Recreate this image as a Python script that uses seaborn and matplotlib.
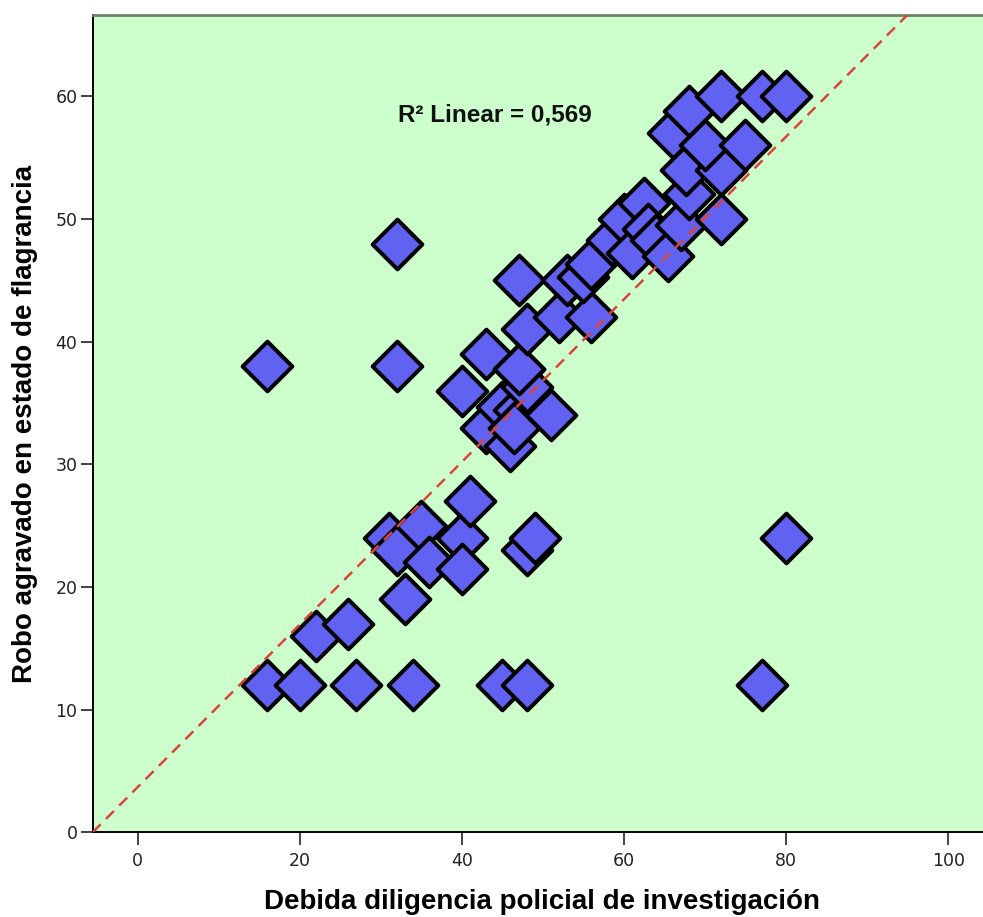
import matplotlib
matplotlib.use("Agg")
import matplotlib.pyplot as plt
import seaborn as sns
import pandas as pd

# Debida diligencia policial de investigación (x) / Robo agravado en estado de flagrancia (y)
diligencia = [16, 20, 27, 34, 45, 48, 77,
              22, 26, 33,
              31, 32, 35, 36, 40, 40, 41, 48, 49,
              16, 32, 32, 80,
              40, 43, 43, 45, 46, 47, 47, 46.5, 48, 51, 47,
              47, 48, 52, 56, 53, 55, 56,
              58.5, 60, 61, 62.5, 63, 64, 65.5, 67, 68, 72,
              67.7, 72, 66, 70, 75, 68, 72, 77, 80]
robo = [12, 12, 12, 12, 12, 12, 12,
        16, 17, 19,
        24, 23, 25, 22, 24, 21.5, 27, 23, 24,
        38, 38, 48, 24,
        36, 39, 33, 34.7, 31.5, 34.4, 37.8, 33, 36.3, 34, 37.8,
        45, 41, 42, 42, 45, 45.3, 46.3,
        48.3, 50, 47.2, 51.3, 49.2, 48.3, 47, 49.5, 52, 50,
        54, 54, 57, 56, 56, 58.8, 60, 60, 60]

x_ticks = [0, 20, 40, 60, 80, 100]
y_ticks = [0, 10, 20, 30, 40, 50, 60]

# recta de ajuste
fit_intercept = 3.67
fit_slope = 0.663
r2_text = "R² Linear = 0,569"

df = pd.DataFrame({"x": diligencia, "y": robo})

fig = plt.figure(figsize=(9.83, 9.17), dpi=100)
ax = fig.add_axes([0.0943, 0.0924, 0.9057, 0.8912])
ax.set_facecolor("#CCFFCC")

sns.scatterplot(data=df, x="x", y="y", marker="D", s=640, color="#6262F2",
                edgecolor="black", linewidth=2.9, ax=ax, zorder=3)

ax.axline((0, fit_intercept), slope=fit_slope, color="#D9453A", lw=1.8,
          dashes=(4.5, 3), zorder=4)

ax.text(32.1, 58.5, r2_text, ha="left", va="center", fontsize=17.5,
        fontweight="bold", family="Liberation Sans", color="#111111", zorder=5)

ax.set_xlim(-5.53, 104.3)
ax.set_ylim(0, 66.63)
ax.set_xticks(x_ticks)
ax.set_yticks(y_ticks)

ax.tick_params(direction="out", length=9, width=1.2, labelsize=12.5,
               colors="#222222")
ax.tick_params(axis="x", pad=5)
ax.tick_params(axis="y", pad=2)

for side in ["left", "bottom"]:
    ax.spines[side].set_color("black")
    ax.spines[side].set_linewidth(1.4)
ax.spines["top"].set_color("#6B836B")
ax.spines["top"].set_linewidth(2)
ax.spines["right"].set_visible(False)

ax.set_xlabel("Debida diligencia policial de investigación", fontsize=20,
              fontweight="bold", family="Liberation Sans")
ax.set_ylabel("Robo agravado en estado de flagrancia", fontsize=20,
              fontweight="bold", family="Liberation Sans")
ax.xaxis.set_label_coords(0.5047, -0.0853)
ax.xaxis.label.set_va("center")
ax.yaxis.set_label_coords(-0.076, 0.5)
ax.yaxis.label.set_va("center")

fig.savefig("out.png", dpi=100)
